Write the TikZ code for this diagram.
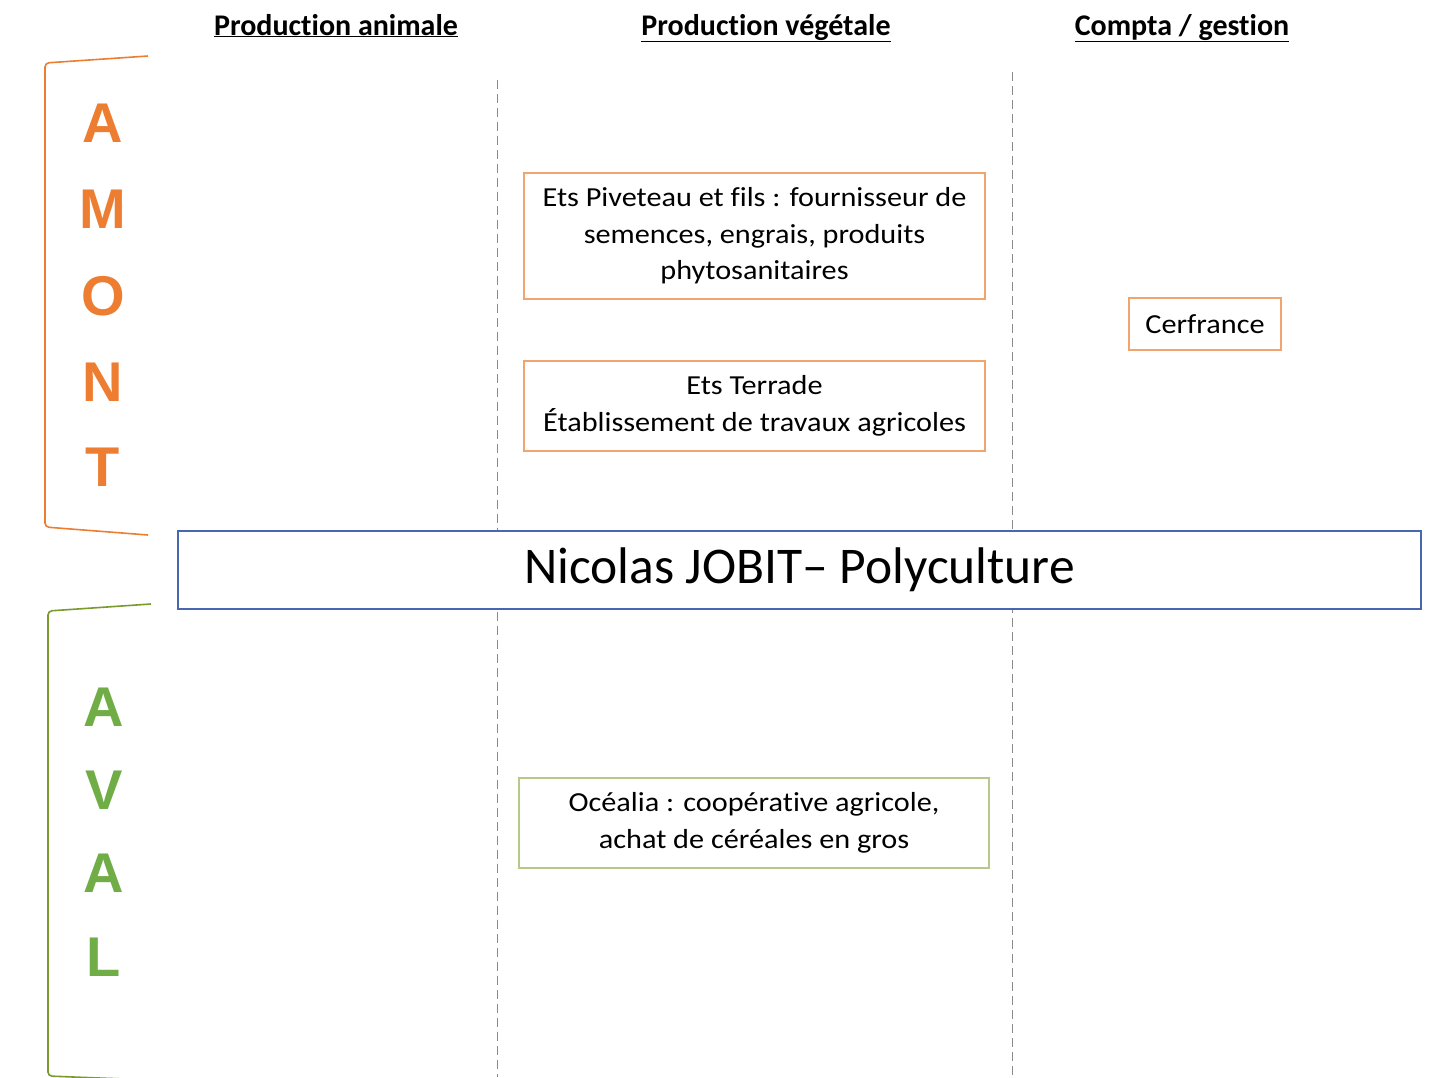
\documentclass[tikz,border=0pt]{standalone}
\usepackage{fontspec}
\setmainfont{Carlito}[Ligatures=NoCommon]
\newfontfamily\widefont{Carlito}[FakeStretch=1.1, Ligatures=NoCommon]
\newfontfamily\letterfont{Liberation Sans}
\definecolor{amontorange}{HTML}{ED7D31}
\definecolor{boxorange}{HTML}{F2A46E}
\definecolor{avalgreen}{HTML}{70AD47}
\definecolor{bracketgreen}{HTML}{7A9A2E}
\definecolor{boxgreen}{HTML}{B5C98A}
\definecolor{titleblue}{HTML}{4A66B0}
\definecolor{dashgray}{HTML}{8A8A8A}
\begin{document}
\begin{tikzpicture}[x=1pt,y=-1pt,
  header/.style={font=\fontsize{30}{34}\selectfont\bfseries, inner sep=0pt, anchor=base},
  actor/.style={draw=boxorange, line width=1.2pt, fill=white, align=center,
    inner sep=0pt, font=\widefont\fontsize{27.5}{36.5}\selectfont},
  actorgreen/.style={actor, draw=boxgreen},
  letter/.style={font=\letterfont\fontsize{56}{60}\selectfont\bfseries, inner sep=0pt},
  column/.style={dashgray, line width=1pt, dash pattern=on 9pt off 5pt},
]
\useasboundingbox (0,0) rectangle (1437,1077);

% column headings
\node[header] (hanim) at (336,35) {\underline{Production animale}};
\node[header] (hveg)  at (766,35) {\underline{Production végétale}};
\node[header] (hcpt)  at (1182,35) {\underline{Compta / gestion}};

% dashed column separators
\coordinate (c1top) at (497,80);
\coordinate (c1bot) at (497,1077);
\coordinate (c2top) at (1012,72);
\coordinate (c2bot) at (1012,1077);
\draw[column] (c1top) -- (c1bot);
\draw[column] (c2top) -- (c2bot);

% upstream bracket
\draw[amontorange, line width=1.6pt, rounded corners=4pt]
  (148,56) -- (45,63) -- (45,527) -- (148,535);
\foreach \l/\y in {A/123, M/209, O/296, N/382, T/467}
  \node[letter, text=amontorange] at (103,\y) {\l};

% downstream bracket
\draw[bracketgreen, line width=1.6pt, rounded corners=4pt]
  (151,604) -- (48,611) -- (48,1076) -- (150,1080);
\foreach \l/\y in {A/707, V/790, A/873, L/957}
  \node[letter, text=avalgreen] at (104,\y) {\l};

% the farm
\node[draw=titleblue, line width=1.6pt, fill=white, minimum width=1243pt,
  minimum height=78pt, inner sep=0pt, font=\fontsize{51.5}{55}\selectfont]
  (farm) at (799.5,570) {Nicolas JOBIT– Polyculture};

% upstream partners
\node[actor, minimum width=461pt, minimum height=126pt] (piveteau) at (754.5,236)
  {Ets Piveteau et fils : fournisseur de\\semences, engrais, produits\\phytosanitaires};
\node[actor, minimum width=461pt, minimum height=90pt] (terrade) at (754.5,406)
  {Ets Terrade\\Établissement de travaux agricoles};
\node[actor, minimum width=152pt, minimum height=52pt] (cerfrance) at (1205,324)
  {Cerfrance};

% downstream partner
\node[actorgreen, minimum width=470pt, minimum height=90pt] (ocealia) at (754,823)
  {Océalia : coopérative agricole,\\achat de céréales en gros};
\end{tikzpicture}
\end{document}
